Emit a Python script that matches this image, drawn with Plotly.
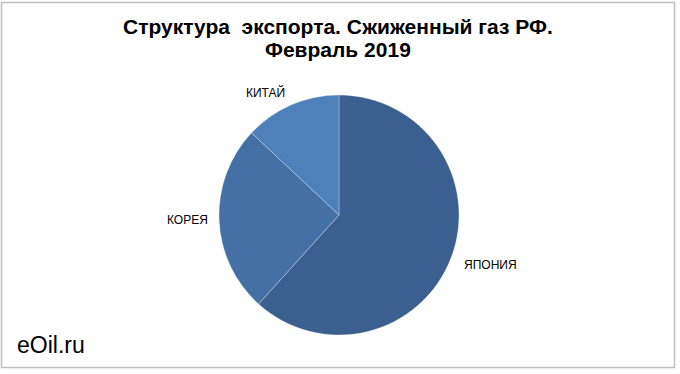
import plotly.graph_objects as go

categories = ["ЯПОНИЯ", "КОРЕЯ", "КИТАЙ"]
shares = [61.7, 25.3, 13.0]
colors = ["#3B5F8E", "#4470A6", "#4E80BC"]
title_lines = ["Структура  экспорта. Сжиженный газ РФ.", "Февраль 2019"]

W, H = 680, 374
cx, cy, r = 339, 215, 120

fig = go.Figure(go.Pie(
    labels=categories,
    values=shares,
    sort=False,
    direction="clockwise",
    rotation=0,
    marker=dict(colors=colors, line=dict(color="rgba(255,255,255,0.5)", width=0.6)),
    textinfo="none",
    hoverinfo="label+percent",
    showlegend=False,
    domain=dict(x=[(cx - r) / W, (cx + r) / W], y=[1 - (cy + r) / H, 1 - (cy - r) / H]),
))

FONT = "Liberation Sans, Arial"
label_pos = {"КИТАЙ": (265, 92), "КОРЕЯ": (187, 220), "ЯПОНИЯ": (490, 265)}
annotations = []
for c in categories:
    x, y = label_pos[c]
    annotations.append(dict(x=x / W, y=1 - y / H, xref="paper", yref="paper",
                            text=c, showarrow=False, xanchor="center", yanchor="middle",
                            font=dict(family=FONT, size=12, color="#000000")))

for line, ty in zip(title_lines, [27, 50]):
    annotations.append(dict(x=338 / W, y=1 - ty / H, xref="paper", yref="paper",
                            text="<b>" + line + "</b>",
                            showarrow=False, xanchor="center", yanchor="middle",
                            font=dict(family=FONT, size=21, color="#000000")))
annotations.append(dict(x=15 / W, y=1 - 345 / H, xref="paper", yref="paper",
                        text="eOil.ru", showarrow=False, xanchor="left", yanchor="middle",
                        font=dict(family=FONT, size=23, color="#000000")))

fig.update_layout(
    width=W, height=H,
    margin=dict(l=0, r=0, t=0, b=0),
    paper_bgcolor="white",
    plot_bgcolor="white",
    annotations=annotations,
    shapes=[dict(type="rect", xref="paper", yref="paper",
                 x0=1.5 / W, x1=674.5 / W, y0=1 - 367.5 / H, y1=1 - 2.5 / H,
                 line=dict(color="#BFBFBF", width=1.5))],
)

fig.write_html("out.html",
               config={"displayModeBar": False},
               post_script="document.body.style.margin='0';document.body.style.padding='0';document.body.style.overflow='hidden';")
